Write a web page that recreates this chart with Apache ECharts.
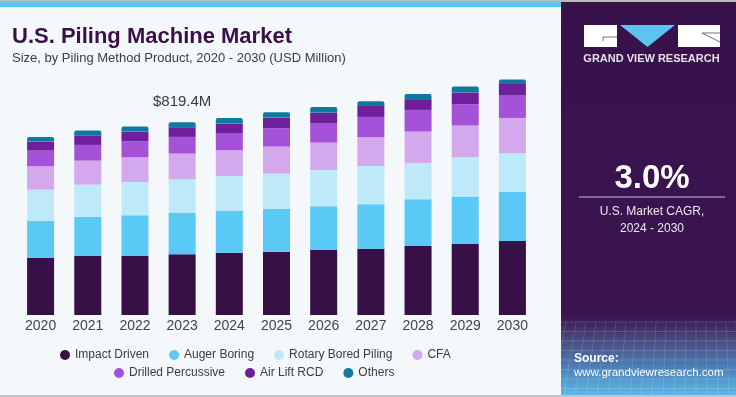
<!DOCTYPE html>
<html>
<head>
<meta charset="utf-8">
<script src="https://cdn.jsdelivr.net/npm/echarts@6/dist/echarts.min.js"></script>
<style>
  html, body { margin: 0; padding: 0; background: #f4f8fb; }
  #chart { width: 736px; height: 397px; }
</style>
</head>
<body>
<div id="chart"></div>
<script>
  // data (USD million)
  var years = ["2020", "2021", "2022", "2023", "2024", "2025", "2026", "2027", "2028", "2029", "2030"];
  var impactDriven = [242.4, 250.9, 250.9, 258.0, 265.0, 269.3, 276.4, 282.0, 293.4, 301.9, 314.6];
  var augerBoring = [157.3, 165.8, 172.9, 175.6, 178.6, 181.4, 185.7, 188.5, 198.4, 201.3, 208.3];
  var rotaryBored = [133.1, 137.3, 141.7, 143.3, 147.4, 150.2, 154.5, 163.0, 154.5, 167.2, 164.4];
  var cfa = [99.1, 102.0, 104.9, 109.0, 109.1, 114.8, 116.2, 121.9, 133.2, 134.7, 150.2];
  var drilledPercussive = [66.8, 66.8, 68.0, 71.0, 70.9, 77.9, 80.8, 86.5, 92.1, 90.7, 95.0];
  var airLiftRcd = [38.3, 39.5, 41.1, 41.2, 42.5, 45.4, 46.8, 46.8, 42.5, 49.6, 49.6];
  var others = [20.0, 21.3, 21.3, 21.3, 24.1, 22.7, 24.1, 19.8, 25.5, 25.5, 18.4];

  var seriesNames = ["Impact Driven", "Auger Boring", "Rotary Bored Piling", "CFA", "Drilled Percussive", "Air Lift RCD", "Others"];
  var seriesData = [impactDriven, augerBoring, rotaryBored, cfa, drilledPercussive, airLiftRcd, others];
  var colors = ["#371047", "#5bc9f5", "#bde9f9", "#d4a8ec", "#a652d8", "#6f1f9b", "#0f7aa0"];

  var calloutYear = "2023";
  var calloutText = "$819.4M";
  var cagrText = "3.0%";

  var font = "'Liberation Sans', Arial, sans-serif";

  var charts = echarts.init(document.getElementById("chart"));

  var series = seriesNames.map(function (name, i) {
    var data = seriesData[i].slice();
    var s = {
      name: name,
      type: "bar",
      stack: "total",
      barWidth: 27,
      itemStyle: { color: colors[i] },
      data: data,
    };
    if (i === seriesNames.length - 1) {
      s.itemStyle.borderRadius = [2, 2, 0, 0];
      var idx = years.indexOf(calloutYear);
      data[idx] = {
        value: data[idx],
        label: {
          show: true,
          position: "top",
          distance: 13,
          formatter: calloutText,
          color: "#3a3a3a",
          fontSize: 15,
          fontFamily: font,
        },
      };
    }
    return s;
  });

  // grid lines texture for the bottom of the side panel
  var gridLines = [];
  for (var k = 0; k < 8; k++) {
    gridLines.push({
      type: "line",
      shape: { x1: 561, y1: 322 + k * 9.5, x2: 736, y2: 322 + k * 9.5 },
      style: { stroke: "rgba(255,255,255,0.15)", lineWidth: 1 },
    });
  }
  for (var m = 0; m < 18; m++) {
    gridLines.push({
      type: "line",
      shape: { x1: 566 + m * 10, y1: 322, x2: 561 + m * 11 - 8, y2: 395 },
      style: { stroke: "rgba(255,255,255,0.12)", lineWidth: 1 },
    });
  }

  var option = {
    backgroundColor: "#f4f8fb",
    animation: false,
    title: [
      {
        text: "U.S. Piling Machine Market",
        left: 12,
        top: 26,
        padding: 0,
        textStyle: { color: "#3a1048", fontSize: 22, fontWeight: "bold", fontFamily: font },
      },
      {
        text: "Size, by Piling Method Product, 2020 - 2030 (USD Million)",
        left: 12,
        top: 52,
        padding: 0,
        textStyle: { color: "#3c3c3c", fontSize: 13, fontWeight: "normal", fontFamily: font },
      },
    ],
    legend: [
      {
        data: seriesNames.slice(0, 4),
        left: 60,
        top: 349,
        padding: 0,
        icon: "circle",
        itemWidth: 10,
        itemHeight: 10,
        itemGap: 20,
        textStyle: { color: "#3c3c3c", fontSize: 12, fontFamily: font },
      },
      {
        data: seriesNames.slice(4),
        left: 114,
        top: 367,
        padding: 0,
        icon: "circle",
        itemWidth: 10,
        itemHeight: 10,
        itemGap: 20,
        textStyle: { color: "#3c3c3c", fontSize: 12, fontFamily: font },
      },
    ],
    grid: {
      left: 17,
      right: 200,
      top: 75,
      bottom: 82,
      containLabel: false,
    },
    xAxis: {
      type: "category",
      data: years,
      axisLine: { show: false },
      axisTick: { show: false },
      axisLabel: { color: "#444", fontSize: 14, margin: 4, fontFamily: font },
    },
    yAxis: {
      type: "value",
      min: 0,
      max: 1020,
      show: false,
      splitLine: { show: false },
    },
    series: series,
    graphic: [
      // top border + blue strip
      { type: "rect", shape: { x: 0, y: 0, width: 736, height: 2 }, style: { fill: "#b9b9b9" } },
      { type: "rect", shape: { x: 0, y: 2, width: 561, height: 5 }, style: { fill: "#5cc3f0" } },
      { type: "rect", shape: { x: 0, y: 395, width: 736, height: 2 }, style: { fill: "#c4c4c4" } },
      // side panel
      {
        type: "rect",
        shape: { x: 561, y: 2, width: 175, height: 393 },
        style: {
          fill: new echarts.graphic.LinearGradient(0, 0, 0, 1, [
            { offset: 0, color: "#37114a" },
            { offset: 0.8, color: "#3a1550" },
            { offset: 0.86, color: "#4a4a80" },
            { offset: 0.93, color: "#4d7fb8" },
            { offset: 1, color: "#5cb8e6" },
          ]),
        },
      },
    ].concat(gridLines).concat([
      // logo
      { type: "rect", shape: { x: 584, y: 25, width: 33, height: 22 }, style: { fill: "#ffffff" } },
      { type: "polyline", shape: { points: [[603, 41], [603, 37], [617, 37]] }, style: { stroke: "#7a6a88", lineWidth: 1, fill: null } },
      { type: "polygon", shape: { points: [[620, 25], [675, 25], [647.5, 47]] }, style: { fill: "#5bc5f0" } },
      { type: "rect", shape: { x: 678, y: 25, width: 42, height: 22 }, style: { fill: "#ffffff" } },
      { type: "polyline", shape: { points: [[702, 33], [720, 33]] }, style: { stroke: "#7a6a88", lineWidth: 1, fill: null } },
      { type: "polyline", shape: { points: [[702, 33], [720, 42]] }, style: { stroke: "#7a6a88", lineWidth: 1, fill: null } },
      {
        type: "text",
        x: 651.5, y: 59,
        style: { text: "GRAND VIEW RESEARCH", fill: "#e6e0ec", font: "bold 11px " + font, textAlign: "center", textVerticalAlign: "middle" },
      },
      {
        type: "text",
        x: 652, y: 179,
        style: { text: cagrText, fill: "#ffffff", font: "bold 33px " + font, textAlign: "center", textVerticalAlign: "middle" },
      },
      { type: "line", shape: { x1: 579, y1: 197, x2: 725, y2: 197 }, style: { stroke: "#c7bcd2", lineWidth: 1 } },
      {
        type: "text",
        x: 652, y: 212,
        style: { text: "U.S. Market CAGR,", fill: "#ece8f0", font: "12px " + font, textAlign: "center", textVerticalAlign: "middle" },
      },
      {
        type: "text",
        x: 652, y: 229,
        style: { text: "2024 - 2030", fill: "#ece8f0", font: "12px " + font, textAlign: "center", textVerticalAlign: "middle" },
      },
      {
        type: "text",
        x: 574, y: 359,
        style: { text: "Source:", fill: "#ffffff", font: "bold 12px " + font, textVerticalAlign: "middle" },
      },
      {
        type: "text",
        x: 574, y: 373,
        style: { text: "www.grandviewresearch.com", fill: "#ffffff", font: "11.5px " + font, textVerticalAlign: "middle" },
      },
    ]),
  };
  charts.setOption(option);
</script>
</body>
</html>
